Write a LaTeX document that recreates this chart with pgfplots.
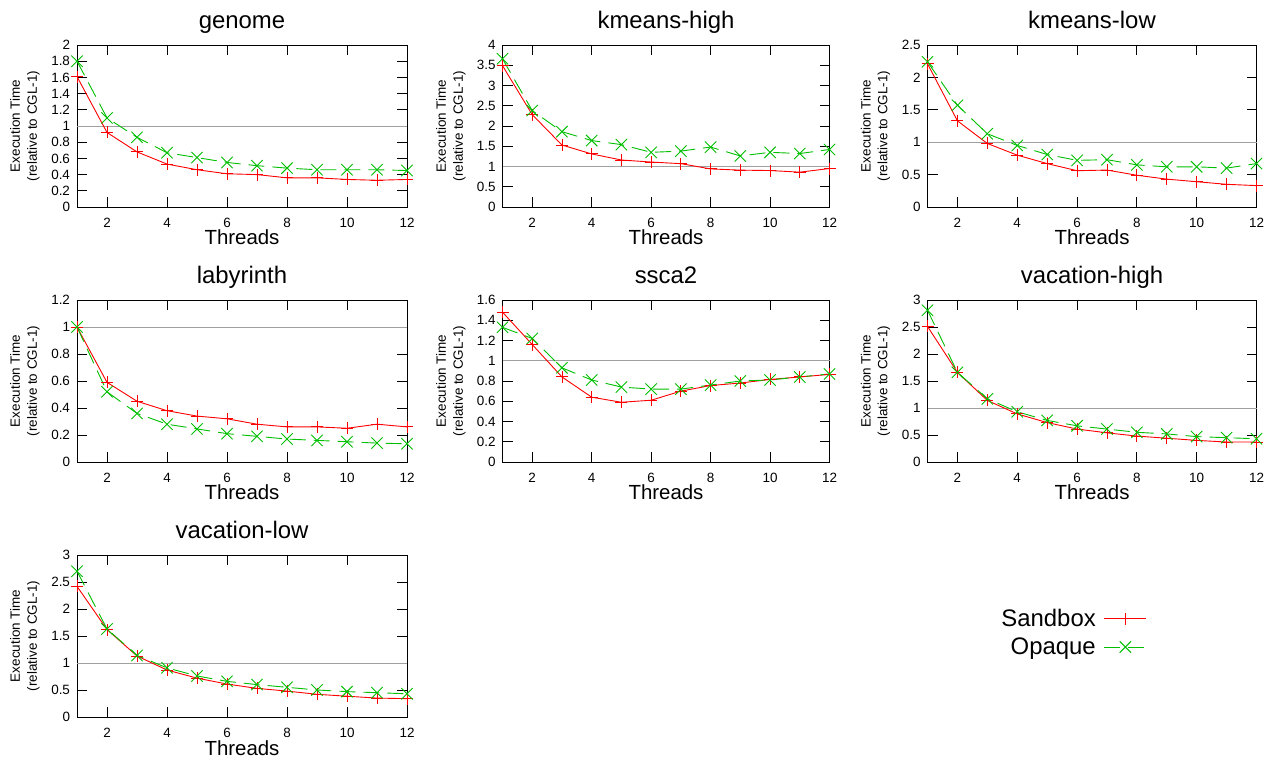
\documentclass[border=0pt]{standalone}
\usepackage{fontspec}
\setmainfont{Liberation Sans}
\usepackage{pgfplots}
\pgfplotsset{compat=1.18}

\definecolor{gpred}{RGB}{255,0,0}
\definecolor{gpgreen}{RGB}{0,190,0}
\definecolor{refgray}{RGB}{160,160,160}

\pgfplotsset{
  stm/.style={
    scale only axis,
    height=162bp,
    xmin=1, xmax=12, ymin=0,
    xtick={2,4,...,12},
    clip=false,
    axis line style={black, line width=0.9bp},
    tick align=inside,
    major tick length=10bp,
    tick style={black, line width=0.8bp},
    /pgf/number format/assume math mode=true,
    ticklabel style={font=\fontsize{13.5}{16}\selectfont},
    xticklabel style={yshift=-7.5bp},
    yticklabel style={xshift=-3.5bp},
    title style={font=\fontsize{24}{28}\selectfont, at={(0.5,1)}, anchor=base, yshift=11bp},
    xlabel={Threads},
    xlabel style={font=\fontsize{20.5}{24}\selectfont, at={(0.5,0)}, anchor=base, yshift=-38bp},
    ylabel={Execution Time\\(relative to CGL-1)},
    ylabel style={font=\fontsize{13.5}{17}\selectfont, align=center, at={(axis description cs:-0.158,0.5)}, anchor=center},
  },
  sandbox/.style={gpred, line width=0.9bp, mark=+, mark size=6bp, mark options={solid, line width=0.9bp}},
  opaque/.style={gpgreen, line width=0.9bp, dash pattern=on 16bp off 8bp, mark=x, mark size=8bp, mark options={solid, line width=0.9bp}},
  refline/.style={refgray, line width=0.8bp, forget plot},
}

\begin{document}
\begin{tikzpicture}
\useasboundingbox (0,0) rectangle (1268bp,757bp);

% genome
\begin{axis}[stm, at={(77bp,550bp)}, anchor=south west, width=330bp,
  title={genome}, ymax=2, ytick={0,0.2,...,2.01}]
\addplot[refline] coordinates {(1,1)(12,1)};
\addplot[sandbox] coordinates {(1,1.61)(2,0.92)(3,0.68)(4,0.53)(5,0.46)(6,0.41)(7,0.40)(8,0.36)(9,0.36)(10,0.34)(11,0.33)(12,0.34)};
\addplot[opaque] coordinates {(1,1.80)(2,1.10)(3,0.86)(4,0.67)(5,0.61)(6,0.55)(7,0.51)(8,0.48)(9,0.46)(10,0.46)(11,0.46)(12,0.45)};
\end{axis}

% kmeans-high
\begin{axis}[stm, at={(502.5bp,550bp)}, anchor=south west, width=327bp,
  title={kmeans-high}, ymax=4, ytick={0,0.5,...,4.01}]
\addplot[refline] coordinates {(1,1)(12,1)};
\addplot[sandbox] coordinates {(1,3.49)(2,2.28)(3,1.53)(4,1.31)(5,1.16)(6,1.11)(7,1.07)(8,0.94)(9,0.91)(10,0.90)(11,0.86)(12,0.95)};
\addplot[opaque] coordinates {(1,3.66)(2,2.38)(3,1.86)(4,1.64)(5,1.54)(6,1.35)(7,1.38)(8,1.48)(9,1.26)(10,1.35)(11,1.32)(12,1.42)};
\end{axis}

% kmeans-low
\begin{axis}[stm, at={(927.5bp,550bp)}, anchor=south west, width=329bp,
  title={kmeans-low}, ymax=2.5, ytick={0,0.5,...,2.51}]
\addplot[refline] coordinates {(1,1)(12,1)};
\addplot[sandbox] coordinates {(1,2.21)(2,1.33)(3,0.98)(4,0.80)(5,0.67)(6,0.56)(7,0.57)(8,0.49)(9,0.43)(10,0.39)(11,0.35)(12,0.33)};
\addplot[opaque] coordinates {(1,2.24)(2,1.57)(3,1.13)(4,0.95)(5,0.81)(6,0.72)(7,0.73)(8,0.65)(9,0.62)(10,0.62)(11,0.60)(12,0.67)};
\end{axis}

% labyrinth
\begin{axis}[stm, at={(77bp,295bp)}, anchor=south west, width=330bp,
  title={labyrinth}, ymax=1.2, ytick={0,0.2,...,1.21}]
\addplot[refline] coordinates {(1,1)(12,1)};
\addplot[sandbox] coordinates {(1,1.00)(2,0.59)(3,0.45)(4,0.38)(5,0.34)(6,0.32)(7,0.28)(8,0.26)(9,0.26)(10,0.25)(11,0.28)(12,0.26)};
\addplot[opaque] coordinates {(1,1.00)(2,0.52)(3,0.36)(4,0.28)(5,0.245)(6,0.21)(7,0.19)(8,0.17)(9,0.16)(10,0.15)(11,0.14)(12,0.135)};
\end{axis}

% ssca2
\begin{axis}[stm, at={(502.5bp,295bp)}, anchor=south west, width=327bp,
  title={ssca2}, ymax=1.6, ytick={0,0.2,...,1.61}]
\addplot[refline] coordinates {(1,1)(12,1)};
\addplot[sandbox] coordinates {(1,1.48)(2,1.16)(3,0.84)(4,0.64)(5,0.59)(6,0.61)(7,0.70)(8,0.755)(9,0.78)(10,0.815)(11,0.84)(12,0.865)};
\addplot[opaque] coordinates {(1,1.33)(2,1.22)(3,0.93)(4,0.81)(5,0.74)(6,0.72)(7,0.72)(8,0.76)(9,0.80)(10,0.81)(11,0.84)(12,0.87)};
\end{axis}

% vacation-high
\begin{axis}[stm, at={(927.5bp,295bp)}, anchor=south west, width=329bp,
  title={vacation-high}, ymax=3, ytick={0,0.5,...,3.01}]
\addplot[refline] coordinates {(1,1)(12,1)};
\addplot[sandbox] coordinates {(1,2.51)(2,1.66)(3,1.14)(4,0.89)(5,0.73)(6,0.61)(7,0.54)(8,0.48)(9,0.44)(10,0.40)(11,0.37)(12,0.37)};
\addplot[opaque] coordinates {(1,2.81)(2,1.66)(3,1.17)(4,0.93)(5,0.77)(6,0.67)(7,0.61)(8,0.55)(9,0.52)(10,0.47)(11,0.45)(12,0.43)};
\end{axis}

% vacation-low (carries the legend)
\begin{axis}[stm, at={(77bp,40bp)}, anchor=south west, width=330bp,
  title={vacation-low}, ymax=3, ytick={0,0.5,...,3.01},
  legend plot pos=right,
  legend cell align=right,
  legend style={at={(axis description cs:3.242,0.5185)}, anchor=east,
    draw=none, fill=none, inner sep=0pt, outer sep=0pt, column sep=8bp,
    nodes={minimum height=28bp, inner sep=0pt},
    font=\fontsize{24}{28}\selectfont}]
\addplot[refline] coordinates {(1,1)(12,1)};
\addplot[sandbox, legend image code/.code={
    \draw[draw=gpred, line width=1.1bp] (0bp,0.5bp) -- (42bp,0.5bp);
    \draw[draw=gpred, line width=1.1bp] (15bp,0.5bp) -- (27bp,0.5bp) (21bp,-5.5bp) -- (21bp,6.5bp);
  }] coordinates {(1,2.42)(2,1.62)(3,1.13)(4,0.87)(5,0.72)(6,0.61)(7,0.53)(8,0.48)(9,0.42)(10,0.385)(11,0.35)(12,0.34)};
\addlegendentry{Sandbox}
\addplot[opaque, legend image code/.code={
    \draw[draw=gpgreen, line width=1bp, dash pattern=on 16bp off 8bp] (0bp,0bp) -- (42bp,0bp);
    \draw[draw=gpgreen, line width=1bp] (15.34bp,-5.66bp) -- (26.66bp,5.66bp) (15.34bp,5.66bp) -- (26.66bp,-5.66bp);
  }] coordinates {(1,2.70)(2,1.63)(3,1.14)(4,0.91)(5,0.76)(6,0.66)(7,0.60)(8,0.55)(9,0.50)(10,0.47)(11,0.45)(12,0.43)};
\addlegendentry{Opaque}
\end{axis}
\end{tikzpicture}
\end{document}
